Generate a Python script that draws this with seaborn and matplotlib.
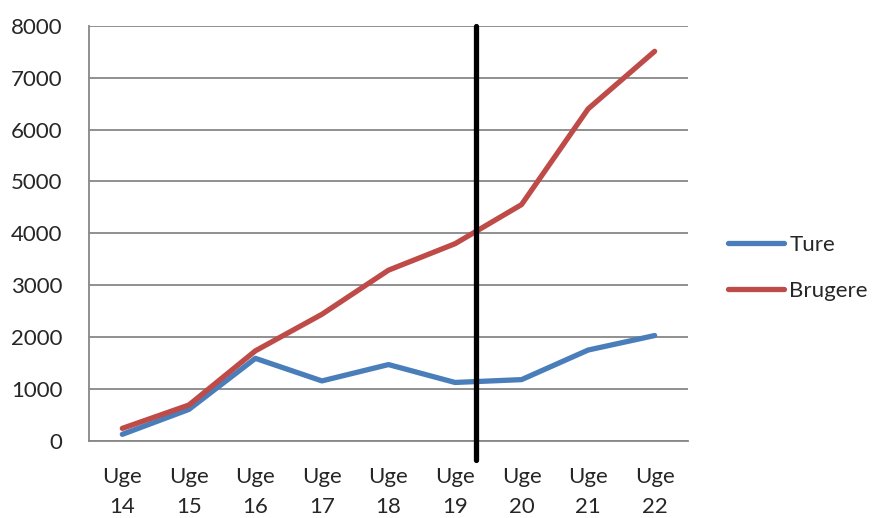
import matplotlib
matplotlib.use("Agg")
import matplotlib.pyplot as plt
import seaborn as sns
import pandas as pd

weeks = ["Uge\n14", "Uge\n15", "Uge\n16", "Uge\n17", "Uge\n18",
         "Uge\n19", "Uge\n20", "Uge\n21", "Uge\n22"]
ture = [125, 605, 1590, 1155, 1470, 1125, 1180, 1750, 2030]
brugere = [240, 690, 1735, 2440, 3290, 3800, 4555, 6400, 7510]
series_names = ["Ture", "Brugere"]
palette = ["#4A7EBB", "#BE4B48"]
divider_pos = 5.32  # marker between week 19 and week 20

df = pd.DataFrame({
    "week": list(range(len(weeks))) * 2,
    "value": ture + brugere,
    "series": [series_names[0]] * len(weeks) + [series_names[1]] * len(weeks),
})

sns.set_style("white")
plt.rcParams["font.family"] = ["Lato", "DejaVu Sans"]

fig = plt.figure(figsize=(8.73, 5.18), dpi=100)
ax = fig.add_axes([0.102, 0.149, 0.686, 0.801])

sns.lineplot(data=df, x="week", y="value", hue="series", hue_order=series_names,
             palette=palette, linewidth=3.8, ax=ax, legend=False,
             solid_capstyle="round", solid_joinstyle="round")

ax.set_xlim(-0.5, len(weeks) - 0.5)
ax.set_ylim(0, 8000)
ax.set_yticks(range(0, 8001, 1000))
ax.grid(axis="y", color="#878787", linewidth=1.3)
ax.set_axisbelow(True)

# category labels in the middle, tick marks on the boundaries
ax.set_xticks(range(len(weeks)))
ax.set_xticklabels(weeks, fontsize=16, linespacing=1.6)
ax.tick_params(axis="x", which="major", length=0, pad=19)
ax.set_xticks([i - 0.5 for i in range(len(weeks) + 1)], minor=True)
ax.tick_params(axis="x", which="minor", length=7, width=1.3, color="#878787", direction="out")
ax.tick_params(axis="y", length=7, width=1.3, color="#878787", direction="out",
               labelsize=16, pad=12)

for side in ["top", "right"]:
    ax.spines[side].set_visible(False)
for side in ["left", "bottom"]:
    ax.spines[side].set_color("#878787")
    ax.spines[side].set_linewidth(1.3)
ax.set_xlabel("")
ax.set_ylabel("")

ax.plot([divider_pos, divider_pos], [-370, 8000], color="black", linewidth=3.8,
        clip_on=False, zorder=5)

handles = [plt.Line2D([], [], color=c, linewidth=3.8, solid_capstyle="round") for c in palette]
fig.legend(handles, series_names, loc="center left", bbox_to_anchor=(0.834, 0.483),
           frameon=False, fontsize=16, handlelength=2.5, handletextpad=0.25,
           labelspacing=1.15, borderpad=0, borderaxespad=0)

fig.savefig("out.png", dpi=100)
